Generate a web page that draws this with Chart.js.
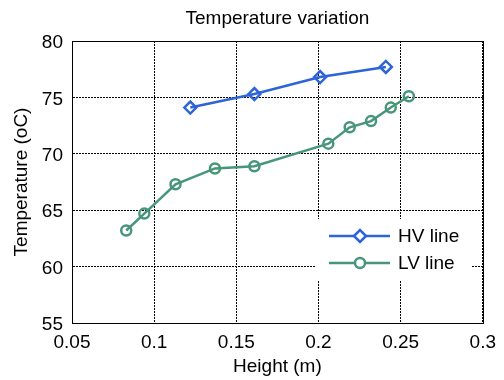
<!DOCTYPE html>
<html>
<head>
<meta charset="utf-8">
<script src="https://cdn.jsdelivr.net/npm/chart.js@4/dist/chart.umd.min.js"></script>
<style>
  html, body { margin: 0; padding: 0; background: #fff; }
  #wrap { width: 504px; height: 380px; }
</style>
</head>
<body>
<div id="wrap"><canvas id="chart" width="504" height="380"></canvas></div>
<script>
// Values
const hvHeight = [0.122, 0.161, 0.201, 0.241]
const hvTemp = [74.1, 75.3, 76.8, 77.7]
const lvHeight = [0.083, 0.094, 0.113, 0.137, 0.161, 0.206, 0.219, 0.232, 0.244, 0.255]
const lvTemp = [63.2, 64.7, 67.3, 68.7, 68.9, 70.9, 72.35, 72.9, 74.1, 75.1]
const xTicks = [0.05, 0.1, 0.15, 0.2, 0.25, 0.3]
const yTicks = [55, 60, 65, 70, 75, 80]

const FONT = '"Liberation Sans", Arial, sans-serif'
const BLUE = '#2d64d6'
const GREEN = '#48967a'

const toPoints = (xs, ys) => xs.map((x, i) => ({ x, y: ys[i] }))

// Draws the black box round the plot area
const frameBox = {
  id: 'frameBox',
  afterDraw (chart) {
    const { ctx, chartArea: a } = chart
    ctx.save()
    ctx.strokeStyle = '#000'
    ctx.lineWidth = 1
    ctx.strokeRect(Math.round(a.left) + 0.5, Math.round(a.top) + 0.5,
      Math.round(a.right - a.left), Math.round(a.bottom - a.top))
    ctx.restore()
  }
}

// Legend inside the plot, lower right, like the MATLAB one
const innerLegend = {
  id: 'innerLegend',
  afterDraw (chart) {
    const { ctx } = chart
    const box = { x: 315, y: 219, w: 157, h: 61 }
    ctx.save()
    ctx.fillStyle = '#fff'
    ctx.fillRect(box.x, box.y, box.w, box.h)
    ctx.font = '19px ' + FONT
    ctx.textBaseline = 'middle'
    chart.data.datasets.forEach((ds, i) => {
      const y = 236 + i * 27
      ctx.strokeStyle = ds.borderColor
      ctx.lineWidth = 2.5
      ctx.beginPath()
      ctx.moveTo(329, y)
      ctx.lineTo(390, y)
      ctx.stroke()
      ctx.fillStyle = '#fff'
      ctx.lineWidth = ds.pointBorderWidth
      Chart.helpers.drawPoint(ctx, {
        pointStyle: ds.pointStyle,
        radius: ds.pointRadius,
        borderWidth: ds.pointBorderWidth,
        rotation: 0
      }, 360, y)
      ctx.fillStyle = '#000'
      ctx.fillText(ds.label, 398, y + 1)
    })
    ctx.restore()
  }
}

new Chart(document.getElementById('chart'), {
  type: 'line',
  data: {
    datasets: [{
      label: 'HV line',
      data: toPoints(hvHeight, hvTemp),
      borderColor: BLUE,
      backgroundColor: 'rgba(0,0,0,0)',
      pointBorderColor: BLUE,
      pointBackgroundColor: 'rgba(0,0,0,0)',
      borderWidth: 2.5,
      pointStyle: 'rectRot',
      pointRadius: 6,
      pointBorderWidth: 2.5,
      tension: 0
    }, {
      label: 'LV line',
      data: toPoints(lvHeight, lvTemp),
      borderColor: GREEN,
      backgroundColor: 'rgba(0,0,0,0)',
      pointBorderColor: GREEN,
      pointBackgroundColor: 'rgba(0,0,0,0)',
      borderWidth: 2.5,
      pointStyle: 'circle',
      pointRadius: 5,
      pointBorderWidth: 2.5,
      tension: 0
    }]
  },
  options: {
    responsive: false,
    animation: false,
    layout: { padding: { left: 0, right: 14, top: 0, bottom: 0 } },
    plugins: {
      legend: { display: false },
      tooltip: { enabled: false },
      title: {
        display: true,
        fullSize: false,
        text: 'Temperature variation',
        color: '#000',
        font: { family: FONT, size: 19, weight: 'normal', lineHeight: 1.2 },
        padding: { top: 7.6, bottom: 10.6 }
      }
    },
    scales: {
      x: {
        type: 'linear',
        min: 0.05,
        max: 0.3,
        afterFit: (scale) => { scale.height = 57 },
        afterBuildTicks: (scale) => { scale.ticks = xTicks.map((v) => ({ value: v })) },
        ticks: {
          color: '#000',
          padding: 8,
          maxRotation: 0,
          font: { family: FONT, size: 19 },
          callback: (v) => String(+v.toFixed(2))
        },
        grid: { color: '#000', lineWidth: 1, drawTicks: false },
        border: { display: true, color: '#000', dash: [2, 1] },
        title: {
          display: true,
          text: 'Height (m)',
          color: '#000',
          font: { family: FONT, size: 19, lineHeight: 1.2 },
          padding: { top: 0, bottom: 2 }
        }
      },
      y: {
        type: 'linear',
        min: 55,
        max: 80,
        afterFit: (scale) => { scale.width = 72 },
        afterBuildTicks: (scale) => { scale.ticks = yTicks.map((v) => ({ value: v })) },
        ticks: {
          color: '#000',
          padding: 9,
          labelOffset: 2,
          font: { family: FONT, size: 19 }
        },
        grid: { color: '#000', lineWidth: 1, drawTicks: false },
        border: { display: true, color: '#000', dash: [2, 1] },
        title: {
          display: true,
          text: 'Temperature (oC)',
          color: '#000',
          font: { family: FONT, size: 19, lineHeight: 1.2 },
          padding: { top: 10.5, bottom: 0 }
        }
      }
    }
  },
  plugins: [frameBox, innerLegend]
})
</script>
</body>
</html>
